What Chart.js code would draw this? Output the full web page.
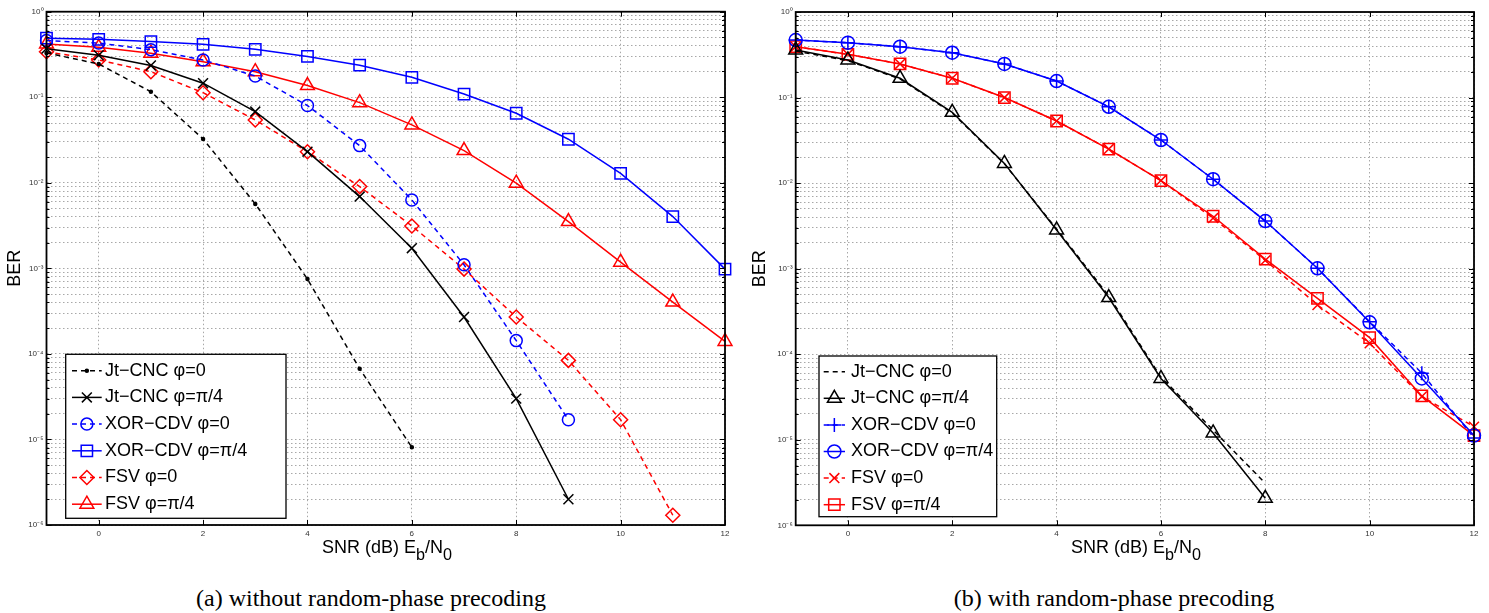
<!DOCTYPE html>
<html>
<head>
<meta charset="utf-8">
<script src="https://cdn.jsdelivr.net/npm/chart.js@4.4.1/dist/chart.umd.min.js"></script>
<style>
  body { margin: 0; background: #fff; width: 1489px; height: 613px; position: relative; overflow: hidden; font-family: "Liberation Sans", Arial, sans-serif; }
  .panel { position: absolute; top: 0; width: 745px; height: 560px; }
  #panelA { left: 0; }
  #panelB { left: 745px; width: 744px; }
  .xtitle { position: absolute; top: 537px; font-size: 18px; white-space: nowrap; transform: translateX(-50%); color: #000; }
  .xtitle sub { font-size: 90%; vertical-align: -7px; line-height: 0; }
  .caption { position: absolute; top: 585px; font-family: "Liberation Serif", "Times New Roman", serif; font-size: 24px; white-space: nowrap; transform: translateX(-50%); color: #000; }
</style>
</head>
<body>
<div id="panelA" class="panel"><canvas id="chartA" width="745" height="560"></canvas></div>
<div id="panelB" class="panel"><canvas id="chartB" width="744" height="560"></canvas></div>
<div class="xtitle" style="left:387px">SNR (dB) E<sub>b</sub>/N<sub>0</sub></div>
<div class="xtitle" style="left:1136px">SNR (dB) E<sub>b</sub>/N<sub>0</sub></div>
<div class="caption" style="left:371px">(a) without random-phase precoding</div>
<div class="caption" style="left:1114px">(b) with random-phase precoding</div>
<script>
// SNR points, every series starts at -1 dB
const snr = [-1, 0, 1, 2, 3, 4, 5, 6, 7, 8, 9, 10, 11, 12];
const xTickValues = [0, 2, 4, 6, 8, 10, 12];
const yDecades = [1e-6, 1e-5, 1e-4, 1e-3, 1e-2, 1e-1];

// (a) without random-phase precoding
const jtCnc0A   = [0.33, 0.245, 0.116, 0.0326, 0.00567, 7.5e-4, 6.7e-5, 8.1e-6];
const jtCncPi4A = [0.37, 0.31, 0.235, 0.146, 0.068, 0.0231, 0.0069, 0.00172, 2.7e-4, 3.0e-5, 2.0e-6];
const xor0A     = [0.46, 0.43, 0.36, 0.273, 0.177, 0.080, 0.0272, 0.0063, 0.0011, 1.43e-4, 1.7e-5];
const xorPi4A   = [0.49, 0.475, 0.447, 0.416, 0.363, 0.30, 0.237, 0.171, 0.109, 0.065, 0.0323, 0.0129, 0.00403, 9.8e-4];
const fsv0A     = [0.34, 0.273, 0.199, 0.113, 0.0543, 0.0231, 0.00903, 0.00313, 9.8e-4, 2.7e-4, 8.4e-5, 1.7e-5, 1.3e-6];
const fsvPi4A   = [0.42, 0.384, 0.327, 0.26, 0.199, 0.137, 0.0865, 0.0475, 0.0238, 0.00989, 0.00352, 0.00118, 4.03e-4, 1.4e-4];

// (b) with random-phase precoding
const jtCnc0B   = [0.35, 0.27, 0.165, 0.066, 0.0168, 0.0029, 4.8e-4, 5.4e-5, 1.3e-5, 3.1e-6];
const jtCncPi4B = [0.36, 0.275, 0.168, 0.0672, 0.017, 0.00283, 4.6e-4, 5.2e-5, 1.2e-5, 2.07e-6];
const xor0B     = [0.47, 0.438, 0.393, 0.334, 0.247, 0.156, 0.078, 0.0319, 0.0111, 0.0036, 0.00101, 2.4e-4, 6.0e-5, 1.05e-5];
const xorPi4B   = [0.47, 0.438, 0.393, 0.334, 0.247, 0.156, 0.078, 0.0319, 0.0111, 0.0036, 0.00101, 2.36e-4, 5.2e-5, 1.12e-5];
const fsv0B     = [0.393, 0.32, 0.247, 0.168, 0.1, 0.0532, 0.025, 0.0107, 0.0039, 0.00125, 3.76e-4, 1.34e-4, 3.2e-5, 1.42e-5];
const fsvPi4B   = [0.393, 0.32, 0.247, 0.168, 0.1, 0.0532, 0.025, 0.0107, 0.0041, 0.00129, 4.5e-4, 1.56e-4, 3.25e-5, 1.12e-5];

const BLACK = "#000000", BLUE = "#0000ff", RED = "#ff0000";
const DASH = [5, 4];
const FONT = '"Liberation Sans", Arial, sans-serif';
const NONE = "rgba(0,0,0,0)";

function series(label, values, color, dash, style, radius, fill) {
  return {
    label,
    data: values.map((v, i) => ({ x: snr[i], y: v })),
    borderColor: color,
    borderWidth: 1.5,
    borderDash: dash,
    pointStyle: style,
    pointRadius: radius,
    pointBorderWidth: 1.5,
    pointBorderColor: color,
    pointBackgroundColor: fill || NONE,
    tension: 0,
    fill: false,
    clip: false,
  };
}

const SUP = { "0": "\u2070", "1": "\u00b9", "2": "\u00b2", "3": "\u00b3", "4": "\u2074", "5": "\u2075", "6": "\u2076", "-": "\u207b" };
function powLabel(v) {
  const e = Math.log10(v);
  if (Math.abs(e - Math.round(e)) > 1e-9) return "";
  return "10" + String(Math.round(e)).split("").map((c) => SUP[c]).join("");
}

function drawMarker(ctx, style, r, x, y, stroke, fill) {
  ctx.save();
  ctx.strokeStyle = stroke;
  ctx.fillStyle = fill;
  ctx.lineWidth = 1.5;
  ctx.setLineDash([]);
  ctx.beginPath();
  if (style === "circle") {
    ctx.arc(x, y, r, 0, Math.PI * 2);
  } else if (style === "rect") {
    const s = r * Math.SQRT1_2;
    ctx.rect(x - s, y - s, 2 * s, 2 * s);
  } else if (style === "rectRot") {
    ctx.moveTo(x - r, y); ctx.lineTo(x, y - r); ctx.lineTo(x + r, y); ctx.lineTo(x, y + r); ctx.closePath();
  } else if (style === "triangle") {
    for (let k = 0; k < 3; k++) {
      const a = -Math.PI / 2 + k * 2 * Math.PI / 3;
      const px = x + Math.cos(a) * r, py = y + Math.sin(a) * r;
      if (k === 0) ctx.moveTo(px, py); else ctx.lineTo(px, py);
    }
    ctx.closePath();
  } else if (style === "cross") {
    ctx.moveTo(x - r, y); ctx.lineTo(x + r, y); ctx.moveTo(x, y - r); ctx.lineTo(x, y + r);
  } else if (style === "crossRot") {
    const s = r * Math.SQRT1_2;
    ctx.moveTo(x - s, y - s); ctx.lineTo(x + s, y + s); ctx.moveTo(x - s, y + s); ctx.lineTo(x + s, y - s);
  }
  if (fill !== NONE) ctx.fill();
  ctx.stroke();
  ctx.restore();
}

// box round the axes with inward tick marks, like the original figure
const framePlugin = {
  id: "frame",
  afterDatasetsDraw(chart) {
    const { ctx, chartArea: a, scales } = chart;
    ctx.save();
    ctx.strokeStyle = "#000";
    ctx.lineWidth = 1;
    ctx.beginPath();
    scales.y.ticks.forEach((t) => {
      const y = Math.round(scales.y.getPixelForValue(t.value)) + 0.5;
      const len = t.label ? 5 : 3;
      ctx.moveTo(a.left, y); ctx.lineTo(a.left + len, y);
      ctx.moveTo(a.right, y); ctx.lineTo(a.right - len, y);
    });
    scales.x.ticks.forEach((t) => {
      const x = Math.round(scales.x.getPixelForValue(t.value)) + 0.5;
      ctx.moveTo(x, a.top); ctx.lineTo(x, a.top + 5);
      ctx.moveTo(x, a.bottom); ctx.lineTo(x, a.bottom - 5);
    });
    ctx.stroke();
    ctx.lineWidth = 1.8;
    ctx.strokeRect(a.left, a.top, a.right - a.left, a.bottom - a.top);
    ctx.restore();
  },
};

// legend box inside the plot, lower left
const boxLegend = {
  id: "boxLegend",
  afterDraw(chart, args, o) {
    const { ctx } = chart;
    ctx.save();
    ctx.fillStyle = "#fff";
    ctx.fillRect(o.x, o.y, o.w, o.h);
    ctx.strokeStyle = "#000";
    ctx.lineWidth = 1.3;
    ctx.strokeRect(o.x, o.y, o.w, o.h);
    chart.data.datasets.forEach((ds, i) => {
      const y = o.y + o.first + i * o.gap;
      const x0 = o.x + o.lineFrom, x1 = o.x + o.lineTo;
      ctx.strokeStyle = ds.borderColor;
      ctx.lineWidth = ds.borderWidth;
      ctx.setLineDash(ds.borderDash || []);
      ctx.beginPath();
      ctx.moveTo(x0, y);
      ctx.lineTo(x1, y);
      ctx.stroke();
      ctx.setLineDash([]);
      if (ds.pointRadius > 0) {
        drawMarker(ctx, ds.pointStyle, ds.pointRadius, (x0 + x1) / 2, y, ds.borderColor, ds.pointBackgroundColor);
      }
      ctx.fillStyle = "#000";
      ctx.font = "18px " + FONT;
      ctx.textBaseline = "middle";
      ctx.fillText(ds.label, o.x + o.textX, y);
    });
    ctx.restore();
  },
};

function makeChart(id, datasets, geom, legendBox) {
  return new Chart(document.getElementById(id), {
    type: "line",
    data: { datasets },
    plugins: [framePlugin, boxLegend],
    options: {
      responsive: false,
      animation: false,
      layout: { padding: { top: geom.top, right: geom.right, bottom: 0, left: 0 } },
      plugins: {
        legend: { display: false },
        tooltip: { enabled: false },
        boxLegend: legendBox,
      },
      scales: {
        x: {
          type: "linear",
          min: -1,
          max: 12,
          afterBuildTicks: (s) => { s.ticks = xTickValues.map((v) => ({ value: v })); },
          afterFit: (s) => { s.height = geom.xHeight; },
          grid: { color: "#a8a8a8", lineWidth: 1, drawTicks: false },
          border: { display: false, dash: [1.5, 2.5] },
          ticks: { font: { size: 8, family: FONT }, color: "#333", padding: 4, maxRotation: 0, autoSkip: false },
        },
        y: {
          type: "logarithmic",
          min: 1e-6,
          max: 1,
          afterBuildTicks: (s) => {
            const t = [];
            yDecades.forEach((d) => { for (let k = 1; k < 10; k++) t.push({ value: k * d }); });
            t.push({ value: 1 });
            s.ticks = t;
          },
          afterFit: (s) => { s.width = geom.yWidth; },
          grid: { color: "#a8a8a8", lineWidth: 1, drawTicks: false },
          border: { display: false, dash: [1.5, 2.5] },
          ticks: { font: { size: 8, family: FONT }, color: "#333", padding: 3, autoSkip: false, callback: powLabel },
          title: { display: true, text: "BER", color: "#000", font: { size: 18, family: FONT }, padding: { top: 4, bottom: 0 } },
        },
      },
    },
  });
}

makeChart("chartA", [
  series("Jt\u2212CNC \u03c6=0", jtCnc0A, BLACK, DASH, "circle", 1.5, BLACK),
  series("Jt\u2212CNC \u03c6=\u03c0/4", jtCncPi4A, BLACK, [], "crossRot", 7),
  series("XOR\u2212CDV \u03c6=0", xor0A, BLUE, DASH, "circle", 6),
  series("XOR\u2212CDV \u03c6=\u03c0/4", xorPi4A, BLUE, [], "rect", 8),
  series("FSV \u03c6=0", fsv0A, RED, DASH, "rectRot", 7),
  series("FSV \u03c6=\u03c0/4", fsvPi4A, RED, [], "triangle", 8),
], { top: 11.7, right: 20, xHeight: 35, yWidth: 46.5 },
   { x: 65.7, y: 354.3, w: 220.3, h: 164, first: 16.4, gap: 26.7, lineFrom: 6.3, lineTo: 36, textX: 39.3 });

makeChart("chartB", [
  series("Jt\u2212CNC \u03c6=0", jtCnc0B, BLACK, DASH, "circle", 0),
  series("Jt\u2212CNC \u03c6=\u03c0/4", jtCncPi4B, BLACK, [], "triangle", 8),
  series("XOR\u2212CDV \u03c6=0", xor0B, BLUE, DASH, "cross", 7),
  series("XOR\u2212CDV \u03c6=\u03c0/4", xorPi4B, BLUE, [], "circle", 6.5),
  series("FSV \u03c6=0", fsv0B, RED, DASH, "crossRot", 7),
  series("FSV \u03c6=\u03c0/4", fsvPi4B, RED, [], "rect", 8),
], { top: 12, right: 15, xHeight: 34.7, yWidth: 50.7 },
   { x: 74, y: 356, w: 177.7, h: 160.7, first: 15.7, gap: 26.6, lineFrom: 4.7, lineTo: 26, textX: 32 });
</script>
</body>
</html>
